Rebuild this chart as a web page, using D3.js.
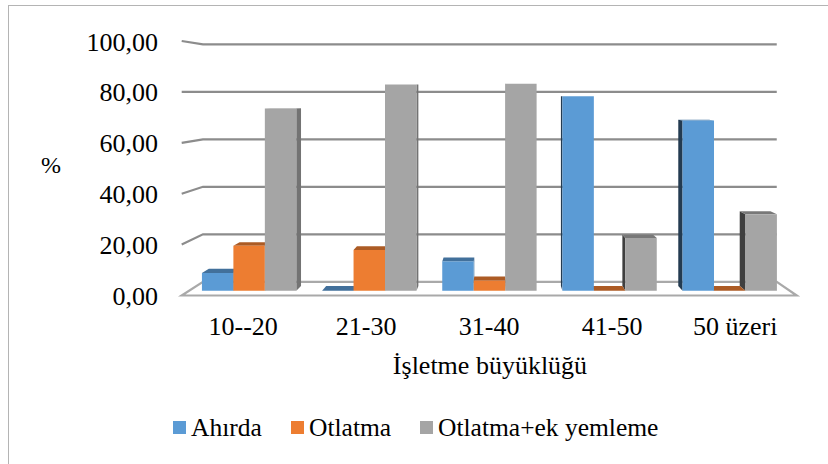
<!DOCTYPE html>
<html>
  <head>
      <meta charset="utf-8">
      <title>D3 3D Column Chart</title>
      <script src="https://cdn.jsdelivr.net/npm/d3@7"></script>
      <style>
        body { margin:0; background:#fff; }
      </style>
  </head>
  <body>
        <div></div>
        <script>
           var categories = ["10--20","21-30","31-40","41-50","50 üzeri"]
           var seriesNames = ["Ahırda","Otlatma","Otlatma+ek yemleme"]
           var ahirda = [7.1, 0, 11.8, 78.2, 68.5]
           var otlatma = [18.1, 16.4, 4.0, 0, 0]
           var otlatmaEk = [73.3, 83.0, 83.3, 21.2, 30.8]
           var yTicks = [0,20,40,60,80,100]
           var colors = ["#5B9BD5","#ED7D31","#A5A5A5"]

           var seriesValues = [ahirda, otlatma, otlatmaEk]
           var W = 828, H = 464
           var serif = "'Liberation Serif', 'Times New Roman', 'DejaVu Serif', serif"
           // perspective: front plane coordinates shrink toward (VX,VY) with depth z in [0,1]
           var VX = 499, VY = 91, persp = 0.0718
           var proj = (xf, yf, z) => {
               var r = 1/(1+persp*z)
               return [VX+(xf-VX)*r, VY+(yf-VY)*r]
           }

           var x = d3.scaleBand().domain(categories).range([181.7, 796.7])
           var xs = d3.scaleBand().domain(seriesNames).range([0, x.bandwidth()]).paddingOuter(0.41)
           var y = d3.scaleLinear().domain([0,100]).range([295.5, 41])
           var fmt = d => d3.format(".2f")(d).replace(".", ",")

           var svg = d3.select("div").append("svg").attr("width",W).attr("height",H)
              .style("font-family", serif)
           svg.append("rect").attr("x",8.5).attr("y",5.5).attr("width",900).attr("height",600)
              .attr("fill","#fff").attr("stroke","#b4b4b4").attr("stroke-width",1)

           var line = d3.line()
           var x0 = x.range()[0], x1 = x.range()[1]

           // floor
           svg.append("path")
              .attr("d", line([proj(x0,y(0),0),proj(x1,y(0),0),proj(x1,y(0),1),proj(x0,y(0),1)])+"Z")
              .attr("fill","#fff").attr("stroke","#a9a9a9").attr("stroke-width",2.2)

           // gridlines on left and back walls
           svg.selectAll(".grid").data(yTicks.filter(t => t>0)).enter().append("path")
              .attr("d", t => line([proj(x0,y(t),0),proj(x0,y(t),1),proj(x1,y(t),1)]))
              .attr("fill","none").attr("stroke","#8c8c8c").attr("stroke-width",2.2)

           // y tick labels
           svg.selectAll(".ylab").data(yTicks).enter().append("text")
              .attr("x",158).attr("y",t => y(t)+1).attr("text-anchor","end")
              .attr("dominant-baseline","central").attr("font-family",serif)
              .attr("font-size",26).text(fmt)

           svg.append("text").attr("x",51).attr("y",165).attr("text-anchor","middle")
              .attr("dominant-baseline","central").attr("font-family",serif)
              .attr("font-size",24).text("%")

           // bars
           var zA = 0.33, zB = 0.67
           var bars = []
           seriesNames.forEach((s,si) => {
               categories.forEach((c,ci) => {
                   var bx0 = x(c)+xs(s), bx1 = bx0+xs.bandwidth()
                   bars.push({s:si, c:ci, x0:bx0, x1:bx1, v:seriesValues[si][ci]})
               })
           })
           bars.sort((a,b) => Math.abs((b.x0+b.x1)/2-VX) - Math.abs((a.x0+a.x1)/2-VX))

           var g = svg.append("g")
           bars.forEach(b => {
               var base = d3.color(colors[b.s])
               var yb = y(0), yt = y(b.v)
               var side
               if ((b.x0+b.x1)/2 < VX) {
                   side = [proj(b.x1,yb,zA),proj(b.x1,yb,zB),proj(b.x1,yt,zB),proj(b.x1,yt,zA)]
                   g.append("path").attr("d",line(side)+"Z").attr("fill",base.darker(1.0))
               } else {
                   side = [proj(b.x0,yb,zA),proj(b.x0,yb,zB),proj(b.x0,yt,zB),proj(b.x0,yt,zA)]
                   g.append("path").attr("d",line(side)+"Z").attr("fill",base.darker(2.7))
               }
               var top = [proj(b.x0,yt,zA),proj(b.x1,yt,zA),proj(b.x1,yt,zB),proj(b.x0,yt,zB)]
               g.append("path").attr("d",line(top)+"Z").attr("fill",base.darker(0.9))
               if (b.v > 0) {
                   var front = [proj(b.x0,yb,zA),proj(b.x1,yb,zA),proj(b.x1,yt,zA),proj(b.x0,yt,zA)]
                   g.append("path").attr("d",line(front)+"Z").attr("fill",base)
               }
           })

           // category labels
           svg.selectAll(".xlab").data(categories).enter().append("text")
              .attr("x",c => x(c)+x.bandwidth()/2).attr("y",335)
              .attr("text-anchor","middle").attr("font-family",serif)
              .attr("font-size",26).text(c => c)

           svg.append("text").attr("x",490).attr("y",374).attr("text-anchor","middle")
              .attr("font-family",serif).attr("font-size",26).text("İşletme büyüklüğü")

           // legend
           var legX = [173, 291, 420]
           var leg = svg.selectAll(".leg").data(seriesNames).enter().append("g")
              .attr("transform",(d,i) => "translate("+legX[i]+",421)")
           leg.append("rect").attr("width",13).attr("height",13).attr("fill",(d,i) => colors[i])
           leg.append("text").attr("x",18).attr("y",15).attr("font-family",serif)
              .attr("font-size",25.5).text(d => d)
        </script>
  </body>
</html>
